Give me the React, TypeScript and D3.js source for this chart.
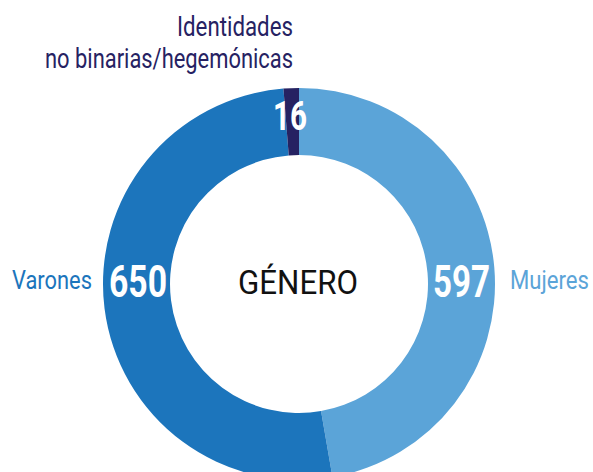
import React from "react";
import * as d3 from "d3";

const categories = ["Mujeres", "Varones", "Identidades no binarias/hegemónicas"];
const values = [597, 650, 16];
const colors = ["#5ba4d8", "#1c75bc", "#262262"];
const titleLines = ["Identidades", "no binarias/hegemónicas"];
const centerLabel = "GÉNERO";

const W = 593;
const H = 472;
const cx = 299;
const cy = 284;
const R = 196;
const r = 129;
const FONT = "Roboto, 'Open Sans', sans-serif";

type T = { x: number; y: number; w: number; size: number; fill: string; bold?: boolean; text: string };

function Txt({ x, y, w, size, fill, bold, text }: T) {
  return (
    <text
      x={x}
      y={y}
      textLength={w}
      lengthAdjust="spacingAndGlyphs"
      fill={fill}
      fontFamily={FONT}
      fontWeight={bold ? "bold" : "normal"}
      fontSize={size}
    >
      {text}
    </text>
  );
}

export default function App() {
  const pie = d3.pie<number>().sort(null).value((d) => d);
  const arcs = pie(values);
  const arc = d3.arc<d3.PieArcDatum<number>>().innerRadius(r).outerRadius(R);
  return (
    <svg width={W} height={H} style={{ position: "absolute", left: 0, top: 0, background: "#fff" }}>
      <g transform={`translate(${cx},${cy})`}>
        {arcs.map((a, i) => (
          <path key={categories[i]} d={arc(a) || ""} fill={colors[i]} />
        ))}
      </g>
      <Txt x={109} y={297} w={58} size={45} fill="#fff" bold text={String(values[1])} />
      <Txt x={433} y={297} w={57} size={45} fill="#fff" bold text={String(values[0])} />
      <Txt x={273} y={130} w={34} size={41} fill="#fff" bold text={String(values[2])} />
      <Txt x={238} y={294} w={120} size={34} fill="#111" text={centerLabel} />
      <Txt x={12} y={289} w={80} size={25} fill={colors[1]} text={categories[1]} />
      <Txt x={510} y={289} w={79} size={25} fill={colors[0]} text={categories[0]} />
      <Txt x={177} y={36} w={116} size={27} fill={colors[2]} text={titleLines[0]} />
      <Txt x={45} y={68} w={248} size={27} fill={colors[2]} text={titleLines[1]} />
    </svg>
  );
}
